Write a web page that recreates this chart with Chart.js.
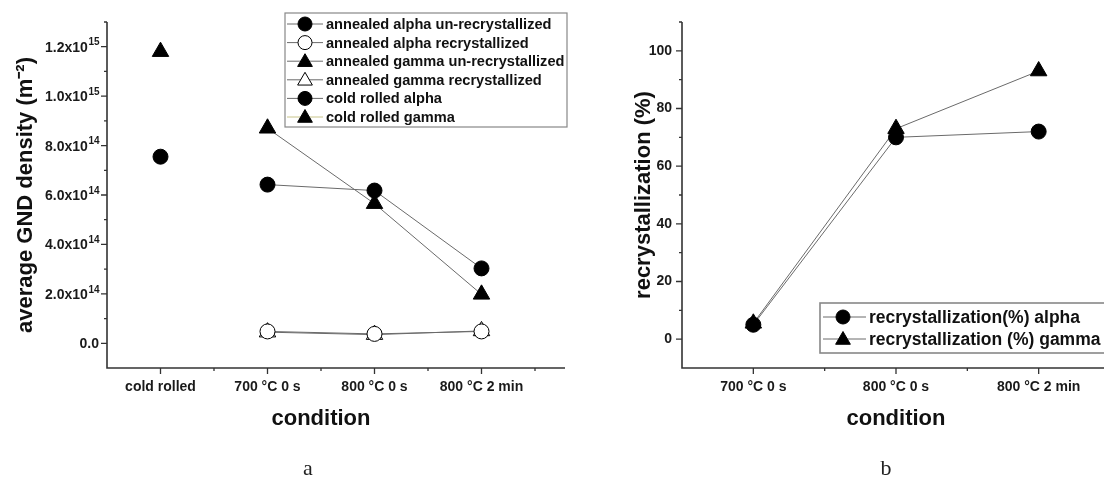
<!DOCTYPE html>
<html>
<head>
<meta charset="utf-8">
<script src="https://cdn.jsdelivr.net/npm/chart.js@4"></script>
<style>
  html, body { margin: 0; padding: 0; background: #fff; width: 1104px; height: 478px; overflow: hidden; }
  #wrap { position: relative; width: 1104px; height: 478px; overflow: hidden; }
  canvas { position: absolute; top: 0; }
  #cA { left: 0; }
  #cB { left: 600px; }
  .panel { position: absolute; font-family: 'Liberation Serif', 'Times New Roman', serif; font-size: 22px; color: #222; transform: translate(-50%, -50%); }
</style>
</head>
<body>
<div id="wrap">
  <canvas id="cA" width="600" height="478"></canvas>
  <canvas id="cB" width="540" height="478"></canvas>
  <div class="panel" style="left:308px; top:468px;">a</div>
  <div class="panel" style="left:886px; top:468px;">b</div>
</div>
<script>
// ---------- DATA ----------
// Panel a
const conditionsA = ['cold rolled', '700 \u00B0C 0 s', '800 \u00B0C 0 s', '800 \u00B0C 2 min'];
const annealedAlphaUnrex = [null, 6.42e14, 6.18e14, 3.03e14];
const annealedAlphaRex   = [null, 4.8e13, 3.8e13, 4.8e13];
const annealedGammaUnrex = [null, 8.7e14, 5.65e14, 1.98e14];
const annealedGammaRex   = [null, 4.5e13, 3.5e13, 5.0e13];
const coldRolledAlpha    = [7.55e14, null, null, null];
const coldRolledGamma    = [1.18e15, null, null, null];
const yTickValuesA   = [0, 2e14, 4e14, 6e14, 8e14, 1e15, 1.2e15];
const yTickMantissaA = ['0.0', '2.0x10', '4.0x10', '6.0x10', '8.0x10', '1.0x10', '1.2x10'];
const yTickExponentA = ['', '14', '14', '14', '14', '15', '15'];
const yTitleA = 'average GND density (m\u207B\u00B2)';
const legendLabelsA = ['annealed alpha un-recrystallized', 'annealed alpha recrystallized', 'annealed gamma un-recrystallized', 'annealed gamma recrystallized', 'cold rolled alpha', 'cold rolled gamma'];

// Panel b
const conditionsB = ['700 \u00B0C 0 s', '800 \u00B0C 0 s', '800 \u00B0C 2 min'];
const recrystAlpha = [5, 70, 72];
const recrystGamma = [5.5, 73, 93];
const yTickValuesB = [0, 20, 40, 60, 80, 100];
const yTickLabelsB = ['0', '20', '40', '60', '80', '100'];
const yTitleB = 'recrystallization (%)';
const legendLabelsB = ['recrystallization(%) alpha', 'recrystallization (%) gamma'];

const xTitle = 'condition';

// ---------- HELPERS ----------
const FONT = "'Liberation Sans', Arial, Helvetica, sans-serif";
const toPts = arr => arr.map((v, i) => (v === null ? null : { x: i, y: v })).filter(p => p !== null);

function ds(label, values, style, filled, lineColor, showLine, radius) {
  return {
    label: label,
    data: toPts(values),
    showLine: showLine,
    borderColor: lineColor,
    borderWidth: 1,
    pointStyle: style,
    pointRadius: radius,
    pointHoverRadius: radius,
    pointBackgroundColor: filled ? '#000' : '#fff',
    pointBorderColor: '#000',
    pointBorderWidth: 1,
    fill: false
  };
}

// axis lines + major/minor tick marks plugin
const axesPlugin = {
  id: 'axesTicks',
  afterDraw(chart, args, opts) {
    const ctx = chart.ctx;
    const a = chart.chartArea;
    const xs = chart.scales.x, ys = chart.scales.y;
    ctx.save();
    ctx.strokeStyle = '#333';
    ctx.lineWidth = 1.6;
    ctx.beginPath();
    ctx.moveTo(a.left, a.top); ctx.lineTo(a.left, a.bottom); ctx.lineTo(a.right + 30, a.bottom);
    ctx.stroke();
    ctx.lineWidth = 1.3;
    ctx.beginPath();
    opts.xMajor.forEach(v => { const p = xs.getPixelForValue(v); ctx.moveTo(p, a.bottom); ctx.lineTo(p, a.bottom + 6); });
    opts.xMinor.forEach(v => { const p = xs.getPixelForValue(v); ctx.moveTo(p, a.bottom); ctx.lineTo(p, a.bottom + 3); });
    opts.yMajor.forEach(v => { const p = ys.getPixelForValue(v); ctx.moveTo(a.left, p); ctx.lineTo(a.left - 6, p); });
    opts.yMinor.forEach(v => { const p = ys.getPixelForValue(v); ctx.moveTo(a.left, p); ctx.lineTo(a.left - 3, p); });
    ctx.stroke();
    // y tick labels with superscript exponents (if configured)
    if (opts.supLabels) {
      const L = opts.supLabels;
      ctx.fillStyle = '#1a1a1a';
      ctx.textBaseline = 'alphabetic';
      ctx.textAlign = 'left';
      L.values.forEach((v, i) => {
        const py = ys.getPixelForValue(v);
        const base = L.mantissa[i], exp = L.exponent[i];
        ctx.font = 'bold ' + L.size + 'px ' + FONT;
        const wb = ctx.measureText(base).width;
        ctx.font = 'bold ' + L.expSize + 'px ' + FONT;
        const we = exp ? ctx.measureText(exp).width : 0;
        const right = a.left - L.pad;
        const x0 = right - wb - we;
        const baseY = py + L.size * 0.36;
        ctx.font = 'bold ' + L.size + 'px ' + FONT;
        ctx.fillText(base, x0, baseY);
        if (exp) {
          ctx.font = 'bold ' + L.expSize + 'px ' + FONT;
          ctx.fillText(exp, x0 + wb + 0.5, baseY - L.size * 0.45);
        }
      });
    }
    ctx.restore();
  }
};

// boxed legend plugin
const boxLegendPlugin = {
  id: 'boxLegend',
  afterDraw(chart, args, o) {
    const ctx = chart.ctx;
    ctx.save();
    ctx.strokeStyle = '#888';
    ctx.lineWidth = o.borderWidth;
    ctx.strokeRect(o.x, o.y, o.w, o.h);
    ctx.font = 'bold ' + o.fontSize + 'px ' + FONT;
    ctx.textBaseline = 'middle';
    chart.data.datasets.forEach((d, i) => {
      const cy = o.y + o.firstRow + i * o.rowH;
      ctx.strokeStyle = d.borderColor;
      ctx.lineWidth = 1;
      ctx.beginPath();
      ctx.moveTo(o.lineX0, cy); ctx.lineTo(o.lineX1, cy);
      ctx.stroke();
      ctx.fillStyle = d.pointBackgroundColor;
      ctx.strokeStyle = '#000';
      ctx.beginPath();
      if (d.pointStyle === 'triangle') {
        const r = o.triR, yc = cy + 1;
        ctx.moveTo(o.symX, yc - r);
        ctx.lineTo(o.symX + r * Math.sin(2 * Math.PI / 3), yc - r * Math.cos(2 * Math.PI / 3));
        ctx.lineTo(o.symX - r * Math.sin(2 * Math.PI / 3), yc - r * Math.cos(2 * Math.PI / 3));
        ctx.closePath();
      } else {
        ctx.arc(o.symX, cy, o.circR, 0, Math.PI * 2);
      }
      ctx.fill(); ctx.stroke();
      ctx.fillStyle = '#111';
      ctx.fillText(d.label, o.textX, cy + 1);
    });
    ctx.restore();
  }
};

function baseOptions(cfg) {
  return {
    responsive: false,
    animation: false,
    events: [],
    layout: { padding: cfg.padding },
    plugins: {
      legend: { display: false },
      tooltip: { enabled: false },
      axesTicks: cfg.ticks,
      boxLegend: cfg.legend
    },
    scales: {
      x: {
        type: 'linear',
        min: cfg.xMin, max: cfg.xMax,
        afterFit: s => { s.height = cfg.xHeight; },
        afterBuildTicks: s => { s.ticks = cfg.xLabels.map((_, i) => ({ value: i })); },
        grid: { display: false, drawTicks: false },
        border: { display: false },
        ticks: {
          autoSkip: false, maxRotation: 0, padding: cfg.xTickPad, color: '#1a1a1a',
          font: { family: FONT, size: 14, weight: 'bold' },
          callback: v => cfg.xLabels[Math.round(v)] || ''
        },
        title: { display: true, text: xTitle, color: '#111', padding: 0, font: { family: FONT, size: 22, weight: 'bold' } }
      },
      y: {
        type: 'linear',
        min: cfg.yMin, max: cfg.yMax,
        afterFit: s => { s.width = cfg.yWidth; },
        afterBuildTicks: s => { s.ticks = cfg.yLabelValues.map(v => ({ value: v })); },
        grid: { display: false, drawTicks: false },
        border: { display: false },
        ticks: {
          display: cfg.yLabels !== null,
          autoSkip: false, padding: cfg.yTickPad, color: '#1a1a1a',
          font: { family: FONT, size: 14, weight: 'bold' },
          callback: (v, i) => (cfg.yLabels ? cfg.yLabels[i] : '')
        },
        title: { display: true, text: cfg.yTitle, color: '#111', padding: 0, font: { family: FONT, size: 22, weight: 'bold' } }
      }
    }
  };
}

// ---------- PANEL A ----------
new Chart(document.getElementById('cA'), {
  type: 'scatter',
  data: {
    datasets: [
      ds(legendLabelsA[0], annealedAlphaUnrex, 'circle', true, '#6a6a6a', true, 7.5),
      ds(legendLabelsA[1], annealedAlphaRex, 'circle', false, '#6a6a6a', true, 7.5),
      ds(legendLabelsA[2], annealedGammaUnrex, 'triangle', true, '#6a6a6a', true, 9.5),
      ds(legendLabelsA[3], annealedGammaRex, 'triangle', false, '#6a6a6a', true, 9.5),
      ds(legendLabelsA[4], coldRolledAlpha, 'circle', true, '#6a6a6a', false, 7.5),
      ds(legendLabelsA[5], coldRolledGamma, 'triangle', true, '#c8c48a', false, 9.5)
    ]
  },
  options: baseOptions({
    padding: { left: 13, top: 22, right: 65, bottom: 46 },
    xMin: -0.5, xMax: 3.5, xHeight: 64, xTickPad: 11, xLabels: conditionsA,
    yMin: -1e14, yMax: 1.3e15, yWidth: 94, yTickPad: 8,
    yLabels: null, yLabelValues: yTickValuesA,
    yTitle: yTitleA,
    ticks: {
      xMajor: [0, 1, 2, 3], xMinor: [0.5, 1.5, 2.5, 3.5],
      yMajor: yTickValuesA,
      yMinor: [1e14, 3e14, 5e14, 7e14, 9e14, 1.1e15, 1.3e15],
      supLabels: { values: yTickValuesA, mantissa: yTickMantissaA, exponent: yTickExponentA, size: 14, expSize: 10, pad: 8 }
    },
    legend: { x: 285, y: 13, w: 282, h: 114, borderWidth: 1.2, firstRow: 11, rowH: 18.6, fontSize: 14.6,
              lineX0: 287, lineX1: 323, symX: 305, textX: 326, circR: 7, triR: 8.5 }
  }),
  plugins: [axesPlugin, boxLegendPlugin]
});

// ---------- PANEL B ----------
new Chart(document.getElementById('cB'), {
  type: 'scatter',
  data: {
    datasets: [
      ds(legendLabelsB[0], recrystAlpha, 'circle', true, '#6a6a6a', true, 7.5),
      ds(legendLabelsB[1], recrystGamma, 'triangle', true, '#6a6a6a', true, 9.5)
    ]
  },
  options: baseOptions({
    padding: { left: 31, top: 22, right: 30, bottom: 46 },
    xMin: -0.5, xMax: 2.5, xHeight: 64, xTickPad: 11, xLabels: conditionsB,
    yMin: -10, yMax: 110, yWidth: 51, yTickPad: 10,
    yLabels: yTickLabelsB, yLabelValues: yTickValuesB,
    yTitle: yTitleB,
    ticks: {
      xMajor: [0, 1, 2], xMinor: [0.5, 1.5],
      yMajor: yTickValuesB,
      yMinor: [10, 30, 50, 70, 90, 110]
    },
    legend: { x: 220, y: 303, w: 330, h: 50, borderWidth: 1.6, firstRow: 14, rowH: 22, fontSize: 17.5,
              lineX0: 223, lineX1: 266, symX: 243, textX: 269, circR: 7, triR: 8.5 }
  }),
  plugins: [axesPlugin, boxLegendPlugin]
});
</script>
</body>
</html>
